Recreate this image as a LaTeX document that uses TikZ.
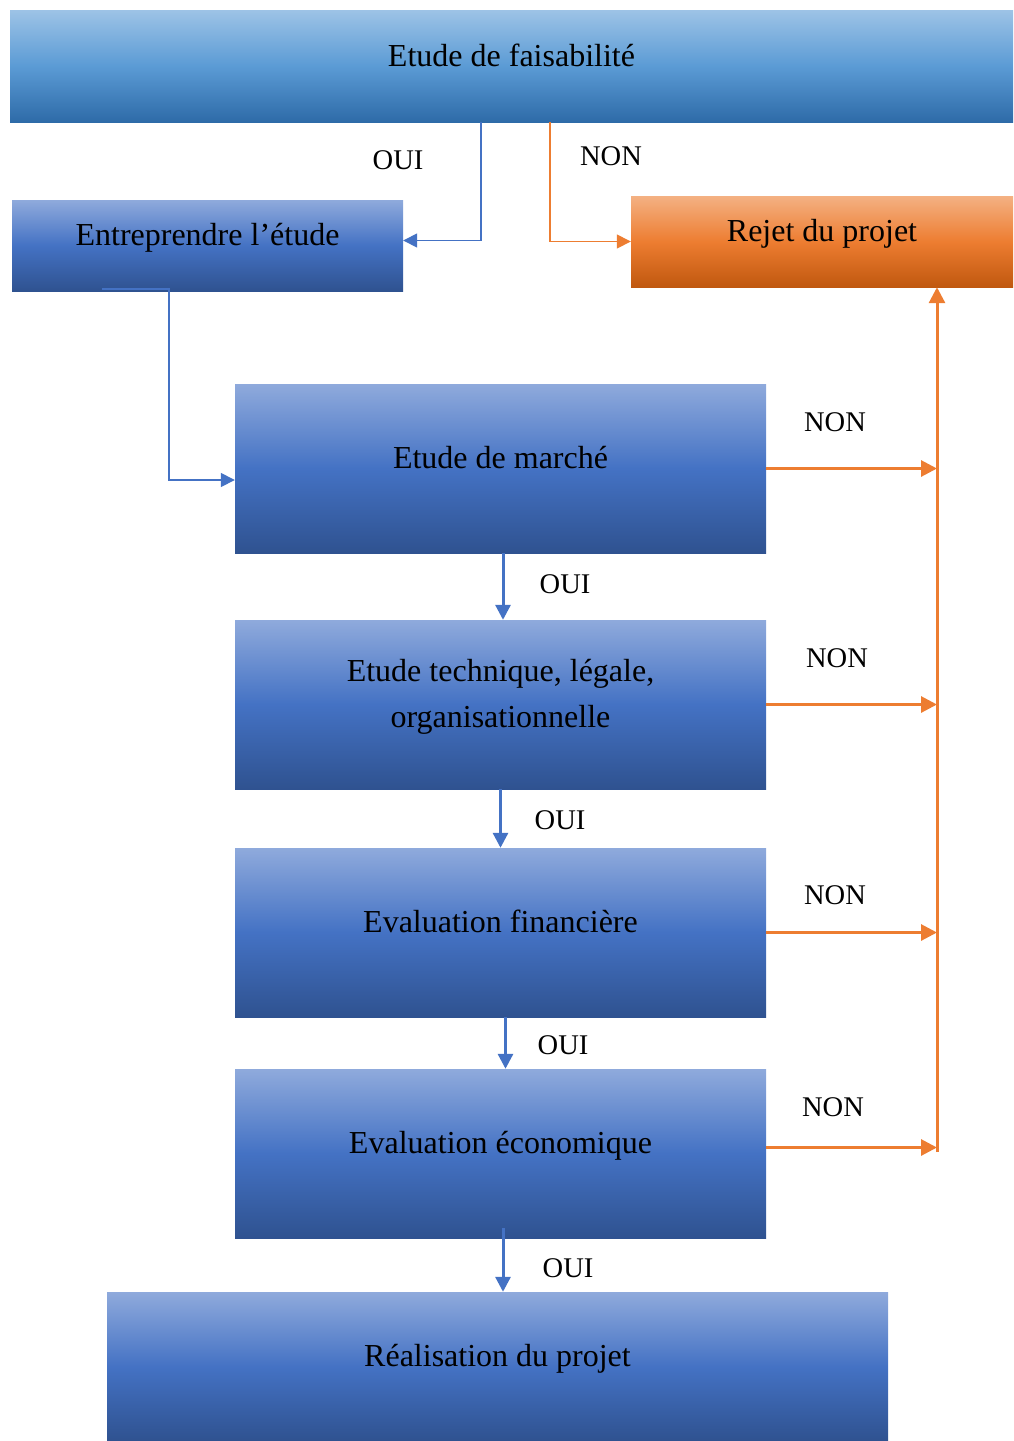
\documentclass[tikz,border=0pt]{standalone}
\usepackage{fontspec}
\setmainfont{Liberation Serif}
\usetikzlibrary{arrows.meta}
\definecolor{skytop}{HTML}{9DC3E6}
\definecolor{skymid}{HTML}{5B9BD5}
\definecolor{skybot}{HTML}{2E6BA8}
\definecolor{bltop}{HTML}{8FAADC}
\definecolor{blmid}{HTML}{4472C4}
\definecolor{blbot}{HTML}{2F5290}
\definecolor{ortop}{HTML}{F4B183}
\definecolor{ormid}{HTML}{ED7D31}
\definecolor{orbot}{HTML}{C0580F}

\begin{document}
\begin{tikzpicture}[x=1pt,y=-1pt,
  box/.style={inner sep=0pt, align=center, font=\fontsize{32}{46}\selectfont,
    text height=22pt, text depth=22pt},
  topbox/.style={box, top color=skytop, bottom color=skybot, middle color=skymid},
  bluebox/.style={box, top color=bltop, bottom color=blbot, middle color=blmid},
  orangebox/.style={box, top color=ortop, bottom color=orbot, middle color=ormid},
  lbl/.style={inner sep=1pt, font=\fontsize{28.5}{34}\selectfont},
  ouithin/.style={draw=blmid, line width=1.5pt, -{Triangle[length=14pt,width=14pt]}},
  nonthin/.style={draw=ormid, line width=1.5pt, -{Triangle[length=14pt,width=14pt]}},
  ouiarrow/.style={draw=blmid, line width=3pt, -{Triangle[length=15pt,width=15pt]}},
  nonarrow/.style={draw=ormid, line width=3pt, -{Triangle[length=16pt,width=16pt]}}]
  \useasboundingbox (0,0) rectangle (1013,1441);

  \node[topbox, minimum width=1003pt, minimum height=112pt] (faisab) at (511.5,66) {Etude de faisabilité};
  \node[bluebox, minimum width=391pt, minimum height=91pt] (entre) at (207.5,245.5) {Entreprendre l’étude};
  \node[orangebox, minimum width=382pt, minimum height=91pt] (rejet) at (822,241.5) {Rejet du projet};
  \node[bluebox, minimum width=531pt, minimum height=169pt] (marche) at (500.5,468.5) {Etude de marché};
  \node[bluebox, minimum width=531pt, minimum height=169pt, text height=68pt, text depth=22pt] (tech) at (500.5,704.5)
    {Etude technique, légale,\\organisationnelle};
  \node[bluebox, minimum width=531pt, minimum height=169pt] (fin) at (500.5,932.5) {Evaluation financière};
  \node[bluebox, minimum width=531pt, minimum height=169pt] (eco) at (500.5,1153.5) {Evaluation économique};
  \node[bluebox, minimum width=781pt, minimum height=149pt] (real) at (497.5,1366.5) {Réalisation du projet};

  \draw[ouithin] ([xshift=-30.5pt]faisab.south) |- ([yshift=5pt]entre.east);
  \draw[nonthin] ([xshift=38.5pt]faisab.south) |- (rejet.west);
  \draw[ouithin] ([shift={(90pt,2pt)}]entre.south west) -- ++(67pt,0pt) |- ([yshift=-11.5pt]marche.west);

  \draw[ouiarrow] ([xshift=2.5pt]marche.south) -- ([xshift=2.5pt]tech.north);
  \draw[ouiarrow] (tech.south) -- (fin.north);
  \draw[ouiarrow] ([xshift=5pt]fin.south) -- ([xshift=5pt]eco.north);
  \draw[ouiarrow] ([shift={(2.5pt,10pt)}]eco.south) -- ([xshift=2.5pt]eco.south |- real.north);

  \coordinate (bus) at (937,1152);
  \draw[nonarrow] (bus) -- (bus |- rejet.south);
  \foreach \b in {marche,tech,fin}
    \draw[nonarrow] (\b.east) -- (\b.east -| bus);
  \draw[nonarrow] ([yshift=6pt]eco.east) -- ([yshift=6pt]eco.east -| bus);

  \node[lbl] (oui1) at (398,160) {OUI};
  \node[lbl] (non1) at (611,156) {NON};
  \node[lbl] (non2) at (835,422) {NON};
  \node[lbl] (non3) at (837,658) {NON};
  \node[lbl] (non4) at (835,895) {NON};
  \node[lbl] (non5) at (833,1107) {NON};
  \node[lbl] (oui2) at (565,584) {OUI};
  \node[lbl] (oui3) at (560,820) {OUI};
  \node[lbl] (oui4) at (563,1045) {OUI};
  \node[lbl, fill=white, minimum width=100pt] (oui5) at (568,1268) {OUI};
\end{tikzpicture}
\end{document}
